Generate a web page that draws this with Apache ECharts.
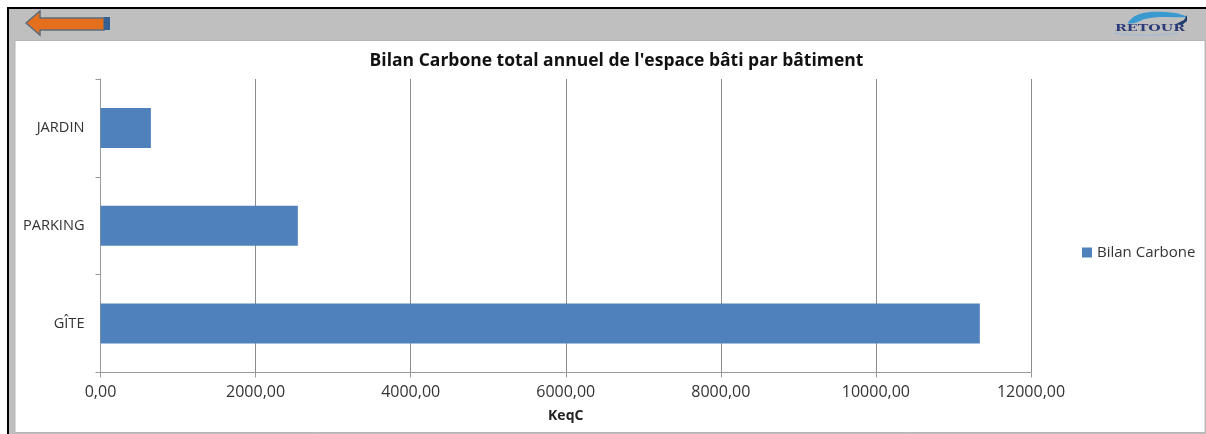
<!DOCTYPE html>
<html><head><meta charset="utf-8">
<style>html,body{margin:0;padding:0;background:#fff}#c{width:1206px;height:434px}</style>
<script src="https://cdn.jsdelivr.net/npm/echarts@6/dist/echarts.min.js"></script>
</head><body><div id="c"></div>
<script>
const categories = ['GÎTE', 'PARKING', 'JARDIN'];
const values = [11340, 2545, 650];
const seriesName = 'Bilan Carbone';
const chartTitle = "Bilan Carbone total annuel de l'espace bâti par bâtiment";
const axisName = 'KeqC';
const font = '"Open Sans", sans-serif';
const fmt = v => v.toFixed(2).replace('.', ',');
const chart = echarts.init(document.getElementById('c'), null, {renderer: 'canvas'});
chart.setOption({
  animation: false,
  backgroundColor: '#fff',
  title: {text: chartTitle, left: 611.5, top: 47, textAlign: 'center',
    textStyle: {fontFamily: font, fontSize: 17.5, fontWeight: 'bold', color: '#111'}},
  legend: {data: [seriesName], left: 1077, top: 240, itemWidth: 10, itemHeight: 10, itemGap: 5,
    icon: 'rect', textStyle: {fontFamily: font, fontSize: 15, color: '#333'}},
  grid: {left: 100.5, right: 175, top: 79, height: 293.5, containLabel: false},
  xAxis: {type: 'value', min: 0, max: 12000, interval: 2000,
    axisLine: {show: true, lineStyle: {color: '#9a9a9a'}},
    axisTick: {show: true, length: 5, lineStyle: {color: '#9a9a9a'}},
    axisLabel: {formatter: fmt, margin: 12, fontFamily: font, fontSize: 16, color: '#333'},
    splitLine: {show: true, lineStyle: {color: '#8c8c8c'}},
    name: axisName, nameLocation: 'middle', nameGap: 37,
    nameTextStyle: {fontFamily: font, fontSize: 14, fontWeight: 'bold', color: '#222'}},
  yAxis: {type: 'category', data: categories,
    axisLine: {show: true, onZero: false, lineStyle: {color: '#9a9a9a'}},
    axisTick: {show: true, length: 5, alignWithLabel: false, lineStyle: {color: '#9a9a9a'}},
    axisLabel: {margin: 16, fontFamily: font, fontSize: 14.6, color: '#333'},
    splitLine: {show: false}},
  series: [{name: seriesName, type: 'bar', data: values, barWidth: 40, itemStyle: {color: '#4f81bd'}}],
  graphic: {elements: [
    {type: 'rect', silent: true, z: -10, shape: {x: 7, y: 7, width: 1199, height: 427}, style: {fill: '#000'}},
    {type: 'rect', silent: true, z: -9, shape: {x: 9, y: 9, width: 1197, height: 425}, style: {fill: '#bfbfbf'}},
    {type: 'rect', silent: true, z: -8, shape: {x: 15, y: 40.5, width: 1190, height: 392}, style: {fill: '#fff', stroke: '#b5b5b5', lineWidth: 1}},
    {type: 'polygon', silent: true, z: 5, shape: {points: [[26,23],[40,11],[40,18],[104,18],[104,30],[40,30],[40,35]]},
      style: {fill: '#e4701e', stroke: '#5f6b7a', lineWidth: 1.5}},
    {type: 'rect', silent: true, z: 5, shape: {x: 104, y: 17, width: 6, height: 13}, style: {fill: '#376092'}},
    {type: 'polygon', silent: true, z: 5, shape: {smooth: 0.3, points: [[1128,23],[1135,16],[1150,12],[1175,13],[1187,17],[1160,17],[1145,19],[1135,23]]},
      style: {fill: '#3a9ad0'}},
    {type: 'polygon', silent: true, z: 5, shape: {points: [[1176,24],[1184,20],[1187,15],[1187,21],[1182,25]]},
      style: {fill: '#1f3d6b'}},
    {type: 'text', silent: true, z: 6, x: 1115, y: 24, scaleX: 1.5, style: {text: 'RETOUR', fontFamily: '"DejaVu Serif", serif', fontSize: 9.5, fontWeight: 'bold', fill: '#2b3a78'}},
    {type: 'bezierCurve', silent: true, z: 5, shape: {x1: 1114, y1: 33, cpx1: 1130, cpy1: 36, cpx2: 1160, cpy2: 36, x2: 1178, y2: 33}, style: {fill: 'none', stroke: '#9db8d8', lineWidth: 1}}
  ]}
});
</script></body></html>
